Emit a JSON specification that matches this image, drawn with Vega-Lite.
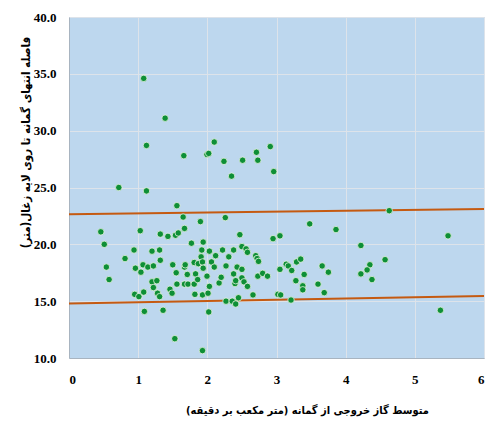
{
  "$schema": "https://vega.github.io/schema/vega-lite/v6.json",
  "autosize": {"type": "none"},
  "width": 415,
  "height": 341,
  "padding": {"left": 69, "top": 17, "right": 5, "bottom": 65},
  "background": "#ffffff",
  "config": {
    "view": {"fill": "#BDD7EE", "stroke": "#d0d8e0", "strokeWidth": 1},
    "font": "Liberation Sans"
  },
  "datasets": {
    "pts": [
      {"x":1.08,"y":34.6},{"x":1.39,"y":31.1},{"x":1.12,"y":28.7},{"x":1.66,"y":27.8},{"x":1.995,"y":27.9},{"x":2.02,"y":28.0},{"x":2.10,"y":29.0},{"x":2.24,"y":27.3},{"x":2.35,"y":26.0},{"x":2.51,"y":27.4},{"x":2.71,"y":28.1},{"x":2.73,"y":27.4},{"x":2.91,"y":28.6},{"x":2.96,"y":26.4},{"x":0.72,"y":25.0},{"x":1.12,"y":24.7},{"x":1.56,"y":23.4},{"x":1.65,"y":22.4},{"x":1.90,"y":22.0},{"x":2.26,"y":22.35},
      {"x":0.46,"y":21.1},{"x":0.51,"y":20.0},{"x":0.54,"y":18.0},{"x":0.58,"y":16.9},{"x":0.81,"y":18.75},{"x":0.94,"y":19.5},{"x":0.96,"y":17.9},{"x":0.95,"y":15.6},{"x":1.01,"y":15.4},{"x":1.03,"y":21.2},
      {"x":1.04,"y":17.55},{"x":1.07,"y":18.2},{"x":1.08,"y":15.8},{"x":1.09,"y":14.1},{"x":1.14,"y":18.0},{"x":1.20,"y":19.4},{"x":1.22,"y":18.1},{"x":1.20,"y":16.7},{"x":1.22,"y":16.2},{"x":1.27,"y":16.8},
      {"x":1.28,"y":15.7},{"x":1.31,"y":19.5},{"x":1.32,"y":18.6},{"x":1.32,"y":20.9},{"x":1.31,"y":15.4},{"x":1.36,"y":14.2},{"x":1.43,"y":20.7},{"x":1.46,"y":16.05},{"x":1.49,"y":15.7},{"x":1.50,"y":18.2},
      {"x":1.54,"y":20.8},{"x":1.55,"y":17.5},{"x":1.56,"y":16.5},{"x":1.58,"y":21.0},{"x":1.53,"y":11.7},{"x":1.67,"y":21.4},{"x":1.67,"y":18.0},{"x":1.68,"y":18.2},{"x":1.71,"y":17.35},{"x":1.67,"y":16.5},
      {"x":1.72,"y":16.5},{"x":1.77,"y":20.1},{"x":1.81,"y":18.4},{"x":1.83,"y":17.4},{"x":1.81,"y":16.5},{"x":1.82,"y":15.6},{"x":1.86,"y":16.9},{"x":1.87,"y":18.3},{"x":1.91,"y":18.9},{"x":1.92,"y":19.5},
      {"x":1.94,"y":20.2},{"x":1.93,"y":18.45},{"x":1.94,"y":17.9},{"x":1.93,"y":15.55},{"x":1.93,"y":10.65},{"x":1.995,"y":17.2},{"x":2.02,"y":14.05},{"x":2.03,"y":19.4},{"x":2.03,"y":16.3},{"x":2.01,"y":15.7},
      {"x":2.06,"y":18.45},{"x":2.10,"y":18.0},{"x":2.12,"y":19.0},{"x":2.17,"y":16.6},{"x":2.20,"y":17.1},{"x":2.22,"y":19.5},{"x":2.27,"y":15.0},{"x":2.27,"y":18.1},{"x":2.31,"y":18.9},{"x":2.36,"y":15.0},
      {"x":2.38,"y":19.5},{"x":2.38,"y":17.4},{"x":2.41,"y":14.75},{"x":2.40,"y":16.55},{"x":2.41,"y":16.8},{"x":2.43,"y":18.0},{"x":2.45,"y":15.3},{"x":2.47,"y":20.85},{"x":2.50,"y":19.8},{"x":2.50,"y":17.8},
      {"x":2.50,"y":17.05},{"x":2.53,"y":16.7},{"x":2.56,"y":19.6},{"x":2.58,"y":19.3},{"x":2.58,"y":16.3},{"x":2.66,"y":15.55},{"x":2.70,"y":19.0},{"x":2.72,"y":18.75},{"x":2.74,"y":18.5},{"x":2.73,"y":17.2},
      {"x":2.80,"y":17.45},{"x":2.87,"y":17.2},{"x":2.95,"y":20.5},{"x":3.02,"y":15.6},{"x":3.05,"y":17.8},{"x":3.05,"y":20.75},
      {"x":3.48,"y":21.8},{"x":3.86,"y":21.3},{"x":4.63,"y":22.96},{"x":5.48,"y":20.75},{"x":4.22,"y":19.9},{"x":4.57,"y":18.65},{"x":4.35,"y":18.2},{"x":4.31,"y":17.75},{"x":4.22,"y":17.4},{"x":4.38,"y":16.9},
      {"x":5.37,"y":14.2},{"x":3.14,"y":18.25},{"x":3.17,"y":18.1},{"x":3.22,"y":17.7},{"x":3.29,"y":18.45},{"x":3.35,"y":18.7},{"x":3.40,"y":17.35},{"x":3.28,"y":16.8},{"x":3.38,"y":16.35},{"x":3.38,"y":16.0},
      {"x":3.06,"y":15.55},{"x":3.21,"y":15.1},{"x":3.66,"y":18.1},{"x":3.75,"y":17.55},{"x":3.60,"y":16.5},{"x":3.69,"y":15.75}
    ],
    "lines": [
      {"line":"upper","x":0,"y":22.65},{"line":"upper","x":6,"y":23.1},
      {"line":"lower","x":0,"y":14.8},{"line":"lower","x":6,"y":15.45}
    ]
  },
  "encoding": {
    "x": {
      "field": "x", "type": "quantitative",
      "scale": {"domain": [0, 6], "nice": false, "zero": false},
      "axis": {
        "values": [0,1,2,3,4,5,6],
        "format": "d",
        "grid": true, "gridColor": "#dde3ea", "gridWidth": 1,
        "domain": true, "domainColor": "#a8b4c0",
        "ticks": false, "labelPadding": 15,
        "labelFont": "Liberation Sans Narrow", "labelFontSize": 13, "labelFontWeight": "bold", "labelColor": "#000000",
        "title": "متوسط گاز خروجی از گمانه (متر مکعب بر دقیقه)",
        "titleFont": "DejaVu Sans Condensed", "titleFontSize": 11, "titleFontWeight": "bold", "titleColor": "#000000",
        "titleX": 238, "titleY": 52, "titleAlign": "center", "titleBaseline": "middle"
      }
    },
    "y": {
      "field": "y", "type": "quantitative",
      "scale": {"domain": [10, 40], "nice": false, "zero": false},
      "axis": {
        "values": [10,15,20,25,30,35,40],
        "format": ".1f",
        "grid": true, "gridColor": "#dde3ea", "gridWidth": 1,
        "domain": true, "domainColor": "#a8b4c0",
        "ticks": false, "labelPadding": 13,
        "labelFont": "Liberation Sans Narrow", "labelFontSize": 13, "labelFontWeight": "bold", "labelColor": "#000000",
        "title": "فاصله انتهای گمانه تا روی لایه زغال(متر)",
        "titleFont": "DejaVu Sans Condensed", "titleFontSize": 11.5, "titleFontWeight": "bold", "titleColor": "#000000",
        "titleX": -43, "titleY": 125, "titleAngle": -90, "titleAlign": "center", "titleBaseline": "middle"
      }
    }
  },
  "layer": [
    {
      "data": {"name": "lines"},
      "mark": {"type": "line", "color": "#C55A11", "strokeWidth": 2},
      "encoding": {"detail": {"field": "line", "type": "nominal"}}
    },
    {
      "data": {"name": "pts"},
      "mark": {"type": "point", "filled": true, "shape": "circle", "size": 42, "color": "#0E8F36", "opacity": 1, "stroke": "#e6f2e0", "strokeWidth": 0.8}
    }
  ]
}
